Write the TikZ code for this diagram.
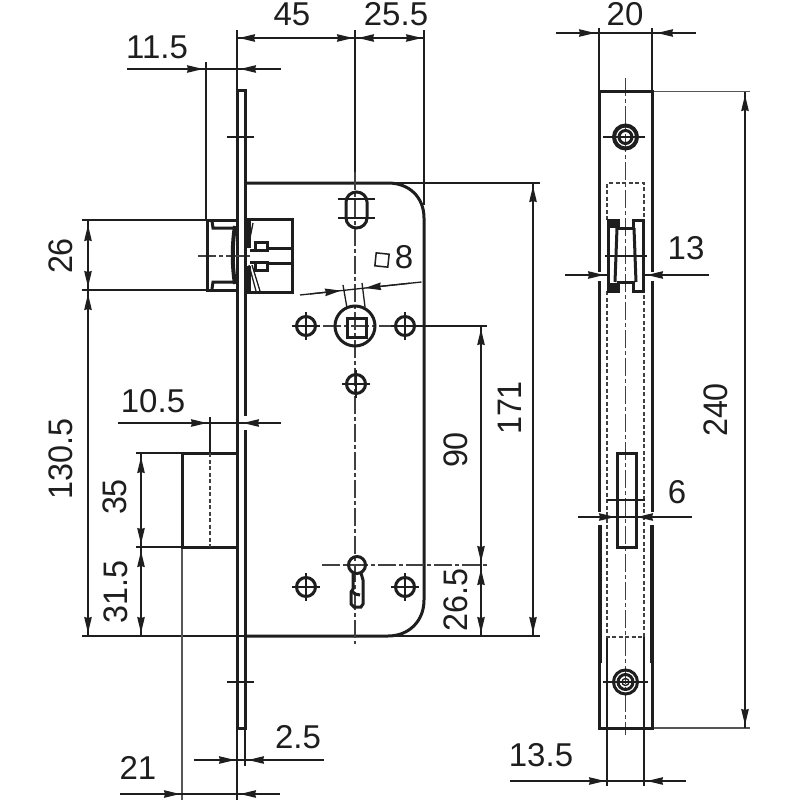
\documentclass[tikz,border=0pt]{standalone}
\usepackage{fontspec}
\setmainfont{Liberation Sans}
\usetikzlibrary{arrows.meta}
\definecolor{ink}{HTML}{1E1E1E}
\newcommand{\vtxt}[1]{\scalebox{0.95}[1]{#1}}
\tikzset{
  thin line/.style={draw=ink,line width=1.3pt},
  bold line/.style={draw=ink,line width=3pt},
  heavy line/.style={draw=ink,line width=4pt},
  soft line/.style={draw=ink!75,line width=1.6pt},
  center line/.style={draw=ink!85,line width=1.2pt,dash pattern=on 18pt off 3pt on 4pt off 3pt},
  hidden line/.style={draw=ink!85,line width=1.7pt,dash pattern=on 4pt off 2.5pt},
  tip/.tip={Stealth[length=16pt,width=7.5pt,inset=1pt]},
  dim to/.style={thin line,-tip},
  label/.style={text=ink,font=\fontsize{33}{33}\selectfont,inner sep=0pt},
  vlabel/.style={text=ink,font=\fontsize{34}{34}\selectfont,inner sep=0pt,rotate=90},
}
\begin{document}
\begin{tikzpicture}[x=1pt,y=-1pt]
\useasboundingbox[fill=white] (0,0) rectangle (800,800);
% ---------- extension lines, left view
\draw[thin line] (237,30)--(237,90);
\draw[thin line] (206,62)--(206,220);
\draw[thin line] (355,30)--(355,172);
\draw[thin line] (424,30)--(424,205);
\draw[thin line] (82,220)--(207,220);
\draw[thin line] (82,290)--(207,290);
\draw[thin line] (390,183)--(540,183);
\draw[thin line] (82,636)--(540,636);
\draw[thin line] (415,326)--(487,326);
\draw[thin line] (136,453)--(182,453);
\draw[thin line] (136,547)--(182,547);
\draw[soft line] (182,547)--(182,800);
\draw[thin line] (210,417)--(210,453);
\draw[thin line] (237,728)--(237,800);
\draw[thin line] (245,728)--(245,766);
% ---------- plate
\draw[bold line] (237,728)--(237,90)--(245,90)--(245,728)--cycle;
\draw[thin line] (227,137)--(254,137);
\draw[thin line] (227,682)--(254,682);
\fill[white] (242,416) rectangle (248.5,430);
% ---------- case
\draw[bold line] (245,183)--(388,183) .. controls (409,183) and (424,197) .. (424,218)
  --(424,600) .. controls (424,621) and (409,636) .. (388,636)--(245,636);
% ---------- centre lines
\draw[center line] (355,172)--(355,644);
\draw[center line] (295,326)--(418,326);
\draw[center line] (322,565)--(487,565);
\draw[center line] (198,256)--(250,256);
% ---------- latch (upper left)
\draw[bold line] (237,220)--(207,220)--(207,290)--(237,290);
\draw[bold line] (212,221)--(213,228)--(235,228);
\draw[bold line] (212,289)--(213,282)--(235,282);
\draw[heavy line] (235,226) .. controls (232,245) and (232,265) .. (235,284);
\draw[bold line] (245,219)--(292,219)--(292,292)--(245,292);
\draw[heavy line] (249,220)--(249,248);
\draw[heavy line] (249,266)--(249,291);
\draw[bold line] (267,248)--(292,248);
\draw[bold line] (267,263)--(292,263);
\draw[bold line] (255,242) rectangle (267,250);
\draw[bold line] (255,262) rectangle (267,270);
\draw[bold line] (250,250)--(255,250);
\draw[bold line] (250,262)--(255,262);
\draw[thin line] (253,223)--(248,248);
\draw[thin line] (249,265)--(256,291);
\draw[thin line] (252,265)--(260,291);
% ---------- case holes
\draw[bold line] (346,202) arc (180:360:10.5 and 10) -- (367,218) arc (0:180:10.5 and 10) -- cycle;
\draw[thin line] (338,199)--(375,199);
\draw[thin line] (338,218)--(375,218);
\draw[bold line] (355,326) circle (20);
\draw[bold line] (347,318) rectangle (366,337);
\foreach \p in {(306,326),(405,326),(356,384),(306,587),(405,587)}{
  \draw[bold line] \p circle (9.5);
  \draw[thin line] \p ++(-14,0) -- ++(28,0);
  \draw[thin line] \p ++(0,-14) -- ++(0,28);
}
% ---------- keyhole
\draw[bold line] (357,565) circle (8.5);
\draw[bold line] (353,573)--(353,589)--(351,592)--(351,604)--(354,607)--(361,607)--(363,604)--(363,580)--(361,573);
\draw[bold line] (352,591)--(355,594)--(360,595);
% ---------- 8 square
\draw[draw=ink,line width=1.5pt,rotate around={-6:(382,260)}] (375.5,253.5) rectangle (388.5,266.5);
\node[label] (sq8) at (404,257) {8};
\draw[thin line] (343,285)--(347,308);
\draw[thin line] (362,283)--(365,307);
\draw[thin line] (300,295)--(421.5,282);
\draw[dim to] (310,294)--(341,290.6);
\draw[dim to] (410,283.2)--(365,288);
% ---------- left bolt
\draw[bold line] (237,453)--(182,453)--(182,547)--(237,547);
\draw[hidden line] (210,453)--(210,547);
% ---------- side view
\draw[thin line] (599,28)--(599,91);
\draw[thin line] (652,28)--(652,91);
\draw[soft line] (652,91.5)--(750,91.5);
\draw[soft line] (652,728)--(750,728);
\draw[thin line] (607,637)--(607,786);
\draw[thin line] (644,637)--(644,786);
\draw[center line] (625.5,78)--(625.5,735);
\draw[bold line] (599,272)--(599,91.5)--(652,91.5)--(652,272);
\draw[bold line] (599,281)--(599,512);
\draw[bold line] (652,281)--(652,512);
\draw[heavy line] (599.5,525)--(599.5,663);
\draw[heavy line] (651.5,525)--(651.5,663);
\draw[bold line] (599,663)--(599,728)--(652,728)--(652,663);
\draw[hidden line] (607,220)--(607,183)--(644,183)--(644,220);
\draw[hidden line] (607,291)--(607,637)--(644,637)--(644,291);
% side bolt
\fill[ink] (608,220) rectangle (618,228);
\fill[ink] (608,283) rectangle (618,291);
\draw[bold line] (608,220)--(618,220)--(618,228)--(633,228)--(633,220)--(643,220)--(643,291)
  --(633,291)--(633,282)--(618,282)--(618,291)--(608,291)--cycle;
\draw[bold line] (617,228)--(615,282);
\draw[bold line] (634,228)--(636,282);
\draw[thin line] (605,256)--(647,256);
% side slot
\draw[bold line] (617,453.5) rectangle (636,547);
\draw[thin line] (607,500)--(645,500);
% screws
\draw[heavy line] (625.5,137) circle (11.5);
\draw[bold line] (625.5,137) circle (6.5);
\draw[thin line] (603,137)--(645,137);
\draw[bold line] (625.5,682) circle (12);
\draw[bold line] (625.5,682) circle (7.5);
\draw[thin line] (625.5,682) circle (3.5);
\draw[thin line] (603,682)--(648,682);
% ---------- dimensions: each as a full line, tips on top
\draw[thin line] (237,38)--(424,38);
\draw[dim to] (262,38)--(239,38);
\draw[dim to] (330,38)--(353,38);
\draw[dim to] (380,38)--(358,38);
\draw[dim to] (400,38)--(422,38);
\draw[thin line] (127,69)--(281,69);
\draw[dim to] (170,69)--(203,69);
\draw[dim to] (262,69)--(240,69);
\draw[thin line] (88,220)--(88,636);
\draw[dim to] (88,250)--(88,225);
\draw[dim to] (88,265)--(88,287);
\draw[dim to] (88,315)--(88,294);
\draw[dim to] (88,610)--(88,633);
\draw[thin line] (118,423)--(281,423);
\draw[dim to] (170,423)--(207,423);
\draw[dim to] (262,423)--(243,423);
\draw[thin line] (141,453)--(141,636);
\draw[dim to] (141,480)--(141,457);
\draw[dim to] (141,520)--(141,544);
\draw[dim to] (141,575)--(141,551);
\draw[dim to] (141,610)--(141,633);
\draw[thin line] (120,794)--(280,794);
\draw[dim to] (150,794)--(180,794);
\draw[dim to] (262,794)--(240,794);
\draw[thin line] (194,760)--(324,760);
\draw[dim to] (210,760)--(235,760);
\draw[dim to] (270,760)--(248,760);
\draw[thin line] (481,326)--(481,636);
\draw[dim to] (481,355)--(481,329);
\draw[dim to] (481,540)--(481,562);
\draw[dim to] (481,592)--(481,569);
\draw[dim to] (481,610)--(481,633);
\draw[thin line] (533,183)--(533,636);
\draw[dim to] (533,210)--(533,186);
\draw[dim to] (533,610)--(533,633);
\draw[thin line] (556,33)--(696,33);
\draw[dim to] (570,33)--(595,33);
\draw[dim to] (680,33)--(657,33);
\draw[thin line] (745,92)--(745,728);
\draw[dim to] (745,120)--(745,95);
\draw[dim to] (745,700)--(745,725);
\draw[thin line] (565,275)--(608,275);
\draw[thin line] (643,275)--(709,275);
\draw[dim to] (585,275)--(604,275);
\draw[dim to] (668,275)--(647,275);
\draw[thin line] (578,517)--(692,517);
\draw[dim to] (597,517)--(615,517);
\draw[dim to] (655,517)--(637,517);
\draw[thin line] (510,781)--(686,781);
\draw[dim to] (580,781)--(605,781);
\draw[dim to] (666,781)--(647,781);
% ---------- labels
\node[label] (t45) at (292,14) {45};
\node[label] (t255) at (396,14) {25.5};
\node[label] (t115) at (157,47) {11.5};
\node[label] (t20) at (625,14) {20};
\node[label] (t13) at (686,248) {13};
\node[label] (t6) at (677,492) {6};
\node[label] (t105) at (153,401) {10.5};
\node[label] (t21) at (138,768) {21};
\node[label] (t25) at (298,737) {2.5};
\node[label] (t135) at (541,755) {13.5};
\node[vlabel] (t26) at (61,256) {\vtxt{26}};
\node[vlabel] (t1305) at (61,459) {\vtxt{130.5}};
\node[vlabel] (t35) at (115,497) {\vtxt{35}};
\node[vlabel] (t315) at (116,592) {\vtxt{31.5}};
\node[vlabel] (t90) at (456,450) {\vtxt{90}};
\node[vlabel] (t265) at (456,600) {\vtxt{26.5}};
\node[vlabel] (t171) at (510,408) {\vtxt{171}};
\node[vlabel] (t240) at (716,410) {\vtxt{240}};
\end{tikzpicture}
\end{document}
